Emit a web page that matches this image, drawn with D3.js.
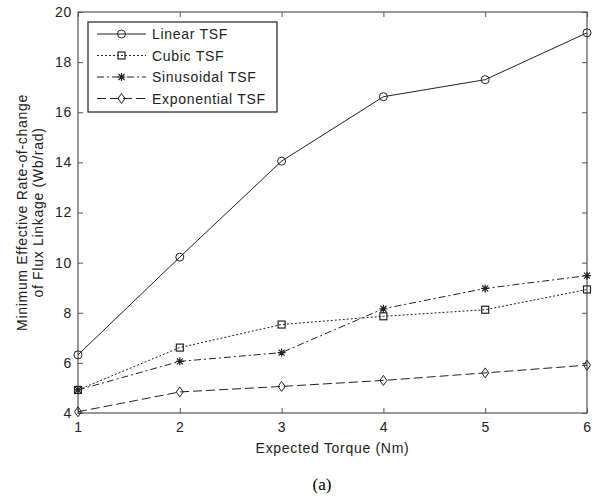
<!DOCTYPE html>
<html>
<head>
<meta charset="utf-8">
<script src="https://cdn.jsdelivr.net/npm/d3@7"></script>
<style>
  body { margin: 0; background: #fff; }
  text { font-family: Arial, "Liberation Sans", sans-serif; }
</style>
</head>
<body>
<div id="chart"></div>
<script>
// data
var torque = [1, 2, 3, 4, 5, 6];
var linearTSF = [6.32, 10.22, 14.05, 16.62, 17.3, 19.17];
var cubicTSF = [4.92, 6.61, 7.53, 7.86, 8.12, 8.93];
var sinusoidalTSF = [4.92, 6.06, 6.41, 8.16, 8.97, 9.48];
var exponentialTSF = [4.05, 4.84, 5.06, 5.3, 5.6, 5.91];
var seriesNames = ["Linear TSF", "Cubic TSF", "Sinusoidal TSF", "Exponential TSF"];
var yTicks = [4, 6, 8, 10, 12, 14, 16, 18, 20];

var width = 602, height = 497;
var margin = {left: 78, top: 12, right: 15, bottom: 84};
var fs = "14px", ls = "0.7px";

var svg = d3.select("#chart").append("svg")
    .attr("width", width)
    .attr("height", height);

var x = d3.scaleLinear().domain([1, 6]).range([margin.left, width - margin.right]);
var y = d3.scaleLinear().domain([4, 20]).range([height - margin.bottom, margin.top]);

var axisColor = "#555";
var lineColor = "#222";

// axes with inward ticks on all four sides (matlab style box)
function styleAxis(g) {
    g.select(".domain").remove();
    g.selectAll(".tick line").attr("stroke", axisColor);
    g.selectAll(".tick text").attr("fill", "#222").style("font-size", fs).style("letter-spacing", ls);
}

svg.append("g")
    .attr("transform", "translate(0," + y(4) + ")")
    .call(d3.axisBottom(x).tickValues(torque).tickFormat(d3.format("d")).tickSizeInner(-5).tickPadding(9))
    .call(styleAxis);
svg.append("g")
    .attr("transform", "translate(0," + y(20) + ")")
    .call(d3.axisTop(x).tickValues(torque).tickFormat("").tickSizeInner(-5))
    .call(styleAxis);
svg.append("g")
    .attr("transform", "translate(" + x(1) + ",0)")
    .call(d3.axisLeft(y).tickValues(yTicks).tickFormat(d3.format("d")).tickSizeInner(-5).tickPadding(6))
    .call(styleAxis);
svg.append("g")
    .attr("transform", "translate(" + x(6) + ",0)")
    .call(d3.axisRight(y).tickValues(yTicks).tickFormat("").tickSizeInner(-5))
    .call(styleAxis);

svg.append("rect")
    .attr("x", x(1)).attr("y", y(20))
    .attr("width", x(6) - x(1)).attr("height", y(4) - y(20))
    .attr("fill", "none").attr("stroke", axisColor).attr("stroke-width", 1.2);

// marker shapes
function drawMarker(g, kind, cx, cy) {
    if (kind == 0) {
        g.append("circle").attr("cx", cx).attr("cy", cy).attr("r", 4)
            .attr("fill", "none").attr("stroke", lineColor);
    } else if (kind == 1) {
        g.append("rect").attr("x", cx - 3.5).attr("y", cy - 3.5).attr("width", 7).attr("height", 7)
            .attr("fill", "none").attr("stroke", lineColor).attr("stroke-width", 1.2);
    } else if (kind == 2) {
        var s = 4;
        g.append("path")
            .attr("d", "M" + (cx - s) + "," + cy + "H" + (cx + s) +
                "M" + cx + "," + (cy - s) + "V" + (cy + s) +
                "M" + (cx - s * 0.75) + "," + (cy - s * 0.75) + "L" + (cx + s * 0.75) + "," + (cy + s * 0.75) +
                "M" + (cx - s * 0.75) + "," + (cy + s * 0.75) + "L" + (cx + s * 0.75) + "," + (cy - s * 0.75))
            .attr("stroke", lineColor).attr("stroke-width", 1.2);
    } else {
        g.append("path")
            .attr("d", "M" + cx + "," + (cy - 5) + "L" + (cx + 3.5) + "," + cy + "L" + cx + "," + (cy + 5) + "L" + (cx - 3.5) + "," + cy + "Z")
            .attr("fill", "none").attr("stroke", lineColor);
    }
}

var dashes = [null, "2,2", "7,3,2,3", "9,4"];
var allSeries = [linearTSF, cubicTSF, sinusoidalTSF, exponentialTSF];

var line = d3.line()
    .x((d, i) => x(torque[i]))
    .y(d => y(d));

allSeries.forEach((vals, k) => {
    var g = svg.append("g");
    g.append("path")
        .datum(vals)
        .attr("d", line)
        .attr("fill", "none")
        .attr("stroke", lineColor)
        .attr("stroke-width", 1)
        .attr("stroke-dasharray", dashes[k]);
    vals.forEach((v, i) => drawMarker(g, k, x(torque[i]), y(v)));
});

// legend box
var leg = svg.append("g");
leg.append("rect")
    .attr("x", 88).attr("y", 22).attr("width", 189).attr("height", 90)
    .attr("fill", "#fff").attr("stroke", "#222").attr("stroke-width", 1.2);
seriesNames.forEach((name, k) => {
    var ly = 34 + k * 21.5;
    leg.append("line")
        .attr("x1", 97).attr("x2", 146).attr("y1", ly).attr("y2", ly)
        .attr("stroke", lineColor)
        .attr("stroke-dasharray", dashes[k]);
    drawMarker(leg, k, 121.5, ly);
    leg.append("text")
        .attr("x", 152).attr("y", ly + 5)
        .style("font-size", fs).style("letter-spacing", ls)
        .attr("fill", "#222")
        .text(name);
});

// axis titles
svg.append("text")
    .attr("x", (x(1) + x(6)) / 2).attr("y", 453)
    .attr("text-anchor", "middle")
    .style("font-size", fs).style("letter-spacing", ls)
    .attr("fill", "#222")
    .text("Expected Torque (Nm)");

var yl = svg.append("text")
    .attr("transform", "translate(27," + (y(12)) + ") rotate(-90)")
    .attr("text-anchor", "middle")
    .style("font-size", fs).style("letter-spacing", ls)
    .attr("fill", "#222");
yl.append("tspan").attr("x", 0).attr("dy", 0).text("Minimum Effective Rate-of-change");
yl.append("tspan").attr("x", 0).attr("dy", 16).text("of Flux Linkage (Wb/rad)");

svg.append("text")
    .attr("x", 322).attr("y", 490)
    .attr("text-anchor", "middle")
    .style("font-family", "'Liberation Serif', 'Times New Roman', serif")
    .style("font-size", "17px")
    .attr("fill", "#000")
    .text("(a)");
</script>
</body>
</html>
